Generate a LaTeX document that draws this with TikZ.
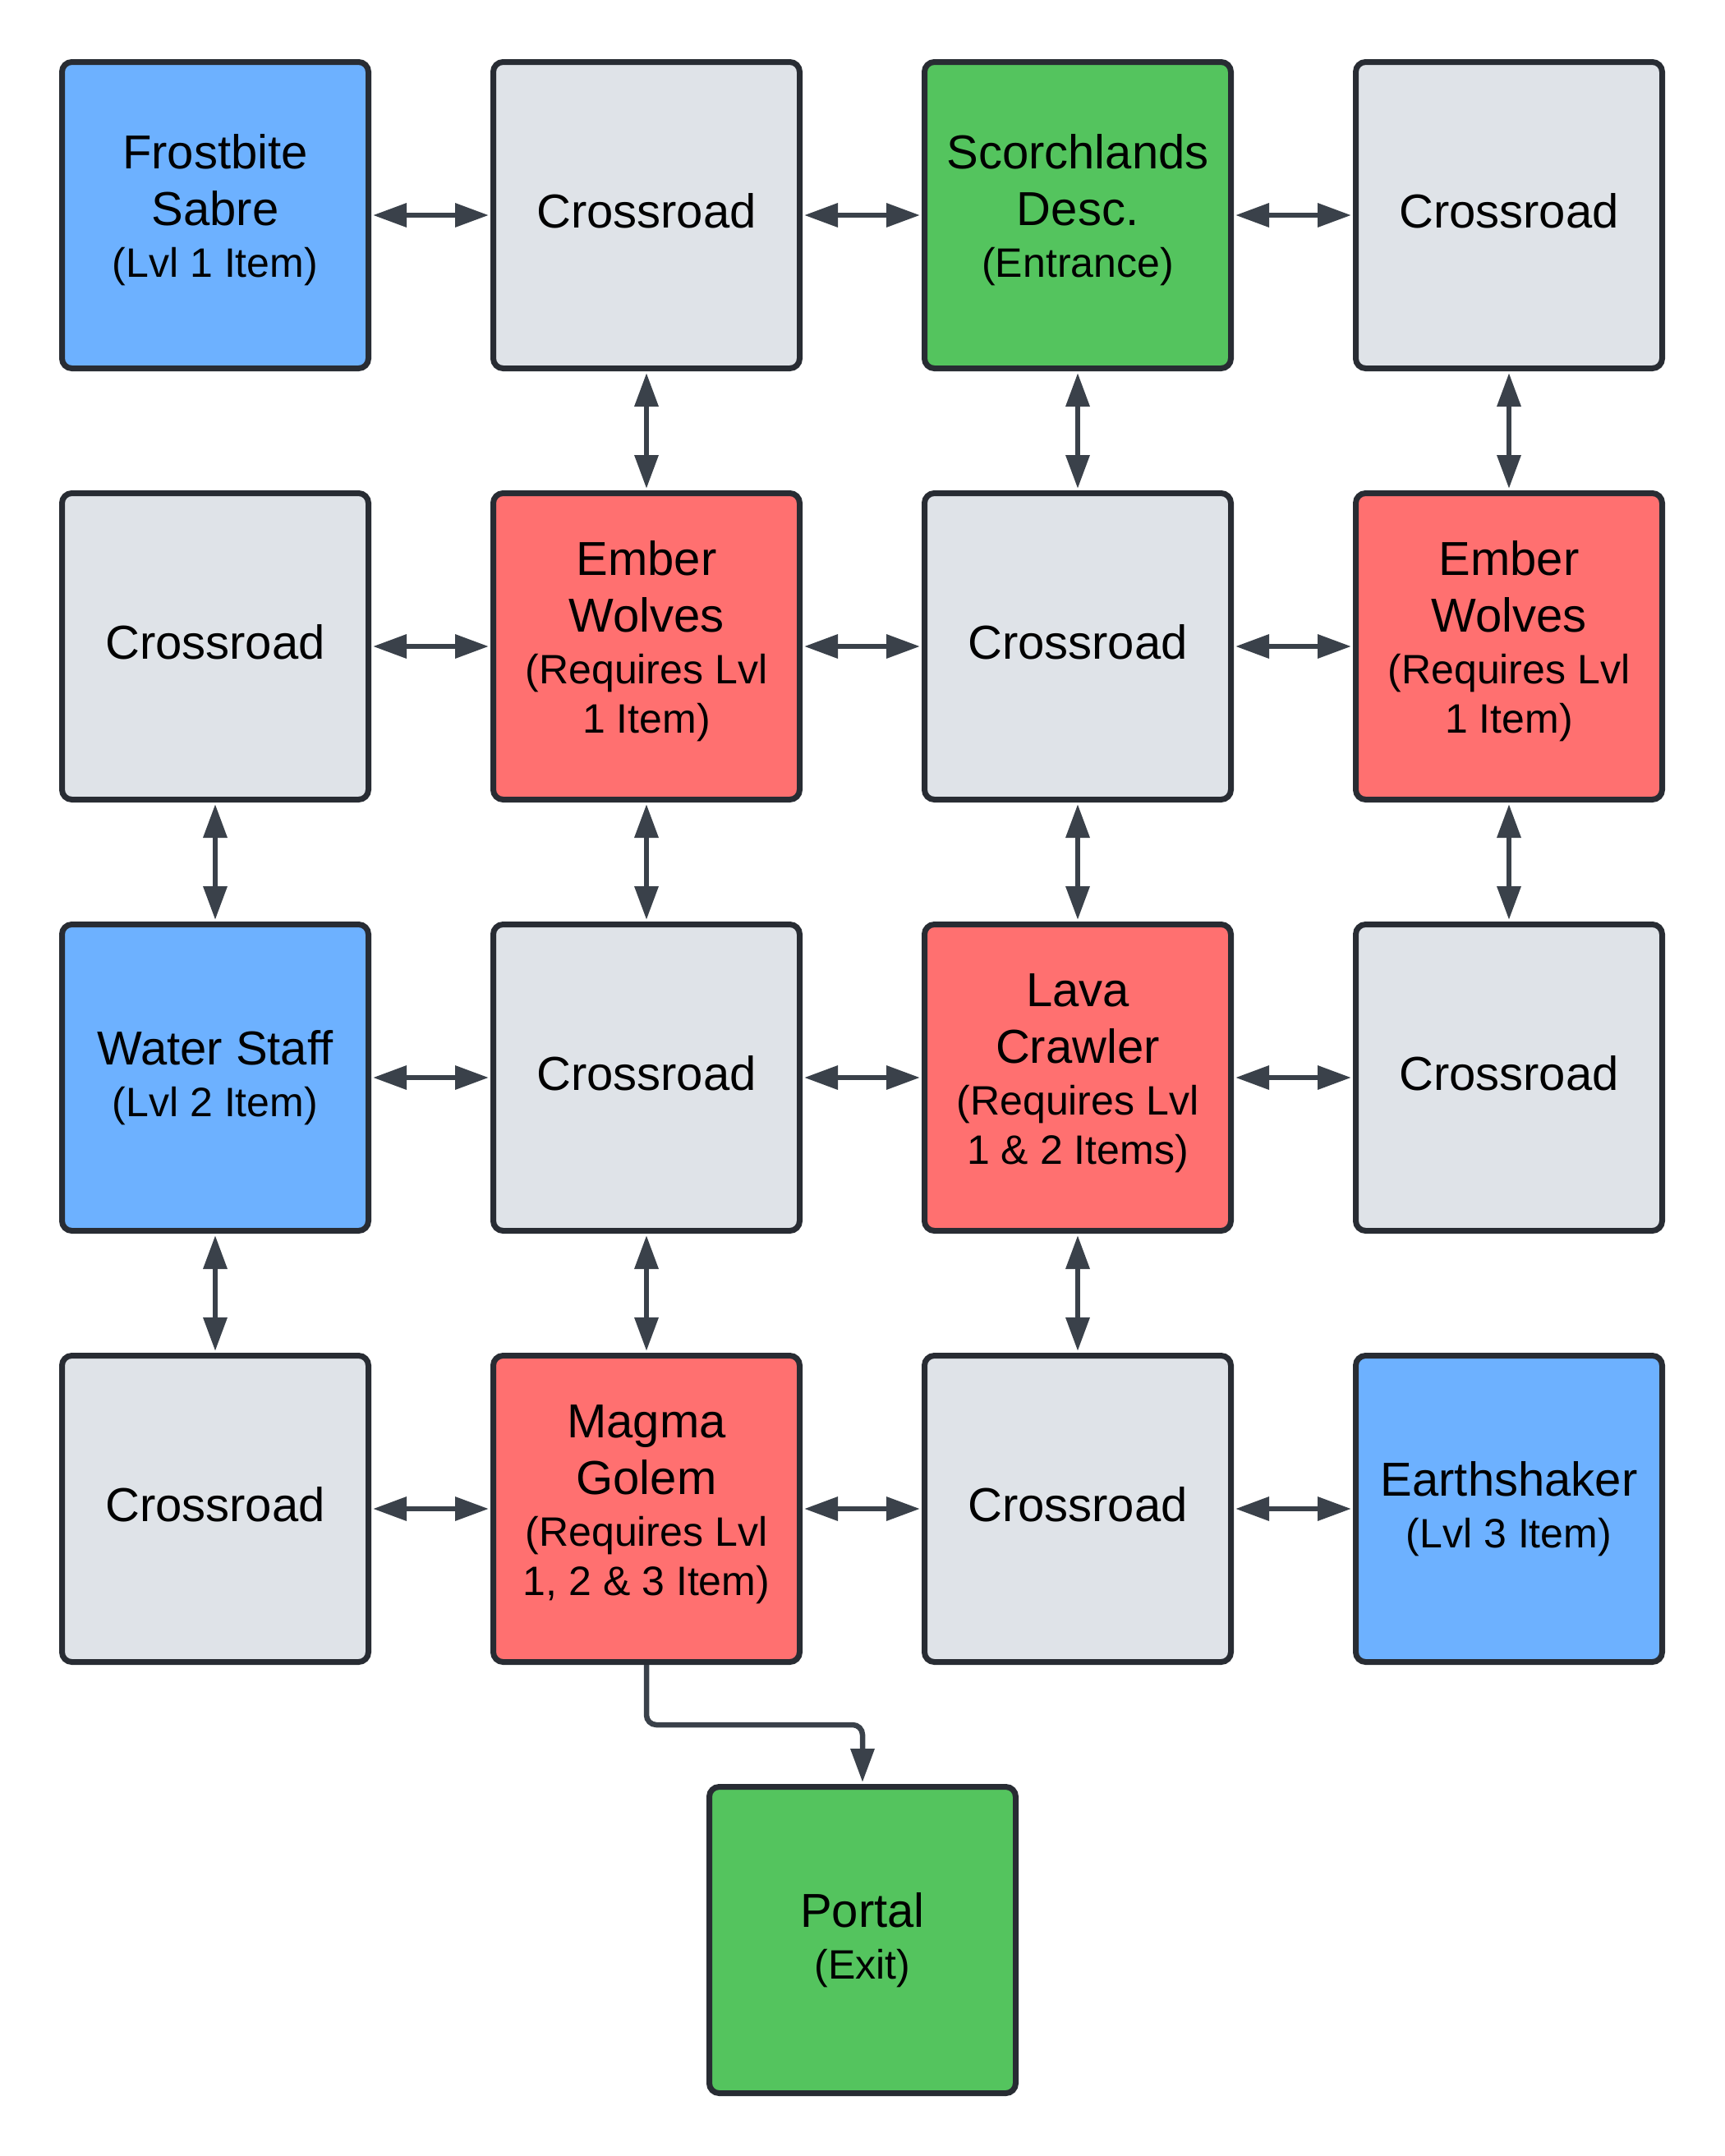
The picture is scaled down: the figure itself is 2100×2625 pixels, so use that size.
\documentclass[tikz,border=0pt]{standalone}
\usepackage{fontspec}
\setmainfont{Liberation Sans}
\usetikzlibrary{arrows.meta}
\definecolor{cblue}{HTML}{6DB1FF}
\definecolor{cgray}{HTML}{DFE3E8}
\definecolor{cgreen}{HTML}{54C45E}
\definecolor{cred}{HTML}{FF7070}
\definecolor{cline}{HTML}{282C33}
\definecolor{carrow}{HTML}{3A414A}
\newcommand\mainfnt{\fontsize{29pt}{34.6pt}\selectfont\lineskiplimit=-1000pt\relax}
\newcommand\subfnt{\fontsize{25pt}{30pt}\selectfont}
\newcommand\hs{\rule{0pt}{24pt}}
\newcommand\da{\rule[-8.1pt]{0pt}{8.1pt}}
\newcommand\db{\rule[-14.5pt]{0pt}{14.5pt}}
\tikzset{
  box/.style={draw=cline, line width=3.5pt, rounded corners=6pt,
    minimum width=186.5pt, minimum height=186.5pt, inner sep=0pt,
    align=center, font=\mainfnt, text=black},
  graybox/.style={box, fill=cgray},
  bluebox/.style={box, fill=cblue},
  greenbox/.style={box, fill=cgreen},
  redbox/.style={box, fill=cred},
  tip/.tip={Triangle[length=20.5pt,width=14pt]},
  conn/.style={draw=carrow, line width=3.25pt, {tip}-{tip},
    shorten <=1pt, shorten >=1pt},
  oneway/.style={draw=carrow, line width=3.25pt, -{tip},
    rounded corners=6pt, shorten >=1pt}
}
\begin{document}
\begin{tikzpicture}[x=0.5pt,y=-0.5pt]
\useasboundingbox (0,0) rectangle (2100,2625);
% row 1
\node[bluebox] (fs) at (262,262) {\hs Frostbite\\Sabre\\[-3.1pt]{\subfnt (Lvl 1 Item)\db}};
\node[graybox] (c12) at (787,262) {\hs Crossroad\da};
\node[greenbox] (sd) at (1312,262) {\hs Scorchlands\\Desc.\\[-3.1pt]{\subfnt (Entrance)\db}};
\node[graybox] (c14) at (1837,262) {\hs Crossroad\da};
% row 2
\node[graybox] (c21) at (262,787) {\hs Crossroad\da};
\node[redbox] (ew1) at (787,787) {\hs Ember\\Wolves\\[-3.1pt]{\subfnt (Requires Lvl}\\[-4.6pt]{\subfnt 1 Item)\db}};
\node[graybox] (c23) at (1312,787) {\hs Crossroad\da};
\node[redbox] (ew2) at (1837,787) {\hs Ember\\Wolves\\[-3.1pt]{\subfnt (Requires Lvl}\\[-4.6pt]{\subfnt 1 Item)\db}};
% row 3
\node[bluebox] (ws) at (262,1312) {\hs Water Staff\\[-3.1pt]{\subfnt (Lvl 2 Item)\da}};
\node[graybox] (c32) at (787,1312) {\hs Crossroad\da};
\node[redbox] (lc) at (1312,1312) {\hs Lava\\Crawler\\[-3.1pt]{\subfnt (Requires Lvl}\\[-4.6pt]{\subfnt 1 \& 2 Items)\db}};
\node[graybox] (c34) at (1837,1312) {\hs Crossroad\da};
% row 4
\node[graybox] (c41) at (262,1837) {\hs Crossroad\da};
\node[redbox] (mg) at (787,1837) {\hs Magma\\Golem\\[-3.1pt]{\subfnt (Requires Lvl}\\[-4.6pt]{\subfnt 1, 2 \& 3 Item)\db}};
\node[graybox] (c43) at (1312,1837) {\hs Crossroad\da};
\node[bluebox] (es) at (1837,1837) {\hs Earthshaker\\[-3.1pt]{\subfnt (Lvl 3 Item)\da}};
% exit
\node[greenbox] (po) at (1050,2362) {\hs Portal\\[-3.1pt]{\subfnt (Exit)\da}};
% horizontal connectors
\draw[conn] (fs) -- (c12);
\draw[conn] (c12) -- (sd);
\draw[conn] (sd) -- (c14);
\draw[conn] (c21) -- (ew1);
\draw[conn] (ew1) -- (c23);
\draw[conn] (c23) -- (ew2);
\draw[conn] (ws) -- (c32);
\draw[conn] (c32) -- (lc);
\draw[conn] (lc) -- (c34);
\draw[conn] (c41) -- (mg);
\draw[conn] (mg) -- (c43);
\draw[conn] (c43) -- (es);
% vertical connectors
\draw[conn] (c12) -- (ew1);
\draw[conn] (sd) -- (c23);
\draw[conn] (c14) -- (ew2);
\draw[conn] (c21) -- (ws);
\draw[conn] (ew1) -- (c32);
\draw[conn] (c23) -- (lc);
\draw[conn] (ew2) -- (c34);
\draw[conn] (ws) -- (c41);
\draw[conn] (c32) -- (mg);
\draw[conn] (lc) -- (c43);
% exit connector
\coordinate (mgbend) at (787,2100);
\draw[oneway] (mg.south) -- (mgbend) -| (po.north);
\end{tikzpicture}
\end{document}
